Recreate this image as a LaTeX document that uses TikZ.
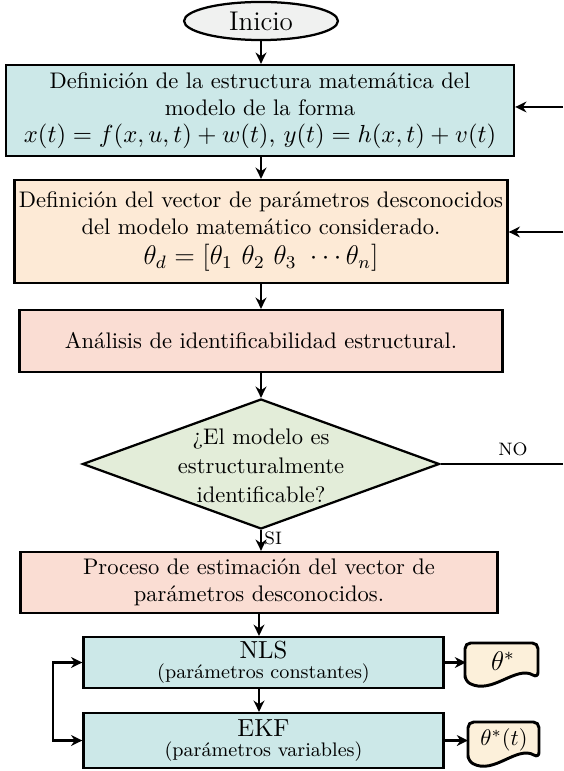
\documentclass[tikz,border=0pt]{standalone}
\usetikzlibrary{shapes.geometric,arrows.meta,backgrounds}
\definecolor{cyanbox}{RGB}{204,232,232}
\definecolor{orangebox}{RGB}{253,234,214}
\definecolor{pinkbox}{RGB}{250,221,211}
\definecolor{greenbox}{RGB}{227,237,217}
\definecolor{docfill}{RGB}{252,240,218}
\definecolor{startfill}{RGB}{240,241,240}
\begin{document}
\begin{tikzpicture}[x=0.4438pt,y=-0.4438pt,
  box/.style={draw,line width=1pt,rectangle,align=center,inner sep=2pt},
  arr/.style={line width=1pt,-{Stealth[length=5pt,width=4.8pt]}},
  darr/.style={line width=1pt,{Stealth[length=5pt,width=4.8pt]}-{Stealth[length=5pt,width=4.8pt]}},
  ln/.style={line width=1pt},
  docshape/.style={draw,line width=1.3pt,fill=docfill,rounded corners=2.5pt},
  lbl/.style={font=\footnotesize,inner sep=1pt},
]
\useasboundingbox (0,0) rectangle (563,771);

\node[draw,ellipse,line width=1pt,fill=startfill,minimum width=68.3pt,minimum height=16.9pt,inner sep=0pt,font=\large] (ini) at (261,21) {Inicio};

\node[box,fill=cyanbox,minimum width=225.5pt,minimum height=40.4pt] (b1) at (260,110.5)
  {Definición de la estructura matemática del\\ modelo de la forma\\
   {\fontsize{10.95}{13}\selectfont $x(t)=f(x,u,t)+w(t)$, $y(t)=h(x,t)+v(t)$}};

\node[box,fill=orangebox,minimum width=214.4pt,minimum height=45.7pt] (b2) at (261,231.5)
  {Definición del vector de parámetros desconocidos\\ del modelo matemático considerado.\\[1pt]
   {\large $\theta_d=[\theta_1\ \theta_2\ \theta_3\ \cdots\theta_n]$}};

\node[box,fill=pinkbox,minimum width=214.4pt,minimum height=27.5pt] (b3) at (261,341)
  {Análisis de identificabilidad estructural.};

\node[draw,diamond,line width=1pt,fill=greenbox,minimum width=158.4pt,minimum height=57.7pt,inner sep=0pt] (dia) at (261,464) {};
\node[align=center,font={\fontsize{10}{13}\selectfont},inner sep=0pt] (dq) at (261,466)
  {¿El modelo es\\ estructuralmente\\ identificable?};

\node[box,fill=pinkbox,minimum width=211.7pt,minimum height=27.1pt] (b4) at (259,582.5)
  {Proceso de estimación del vector de\\ parámetros desconocidos.};

\node[box,fill=cyanbox,minimum width=159.8pt,minimum height=22.6pt,inner sep=1pt] (nls) at (263.5,662.5)
  {{\fontsize{10.95}{11}\selectfont NLS}\\[-3pt] {\fontsize{8.7}{10}\selectfont (parámetros constantes)}};

\node[box,fill=cyanbox,minimum width=159.8pt,minimum height=24.4pt,inner sep=1pt] (ekf) at (263.5,740.5)
  {{\fontsize{10.95}{11}\selectfont EKF}\\[-3pt] {\fontsize{8.7}{10}\selectfont (parámetros variables)}};

\node[minimum width=32.4pt,minimum height=15pt,inner sep=0pt,font=\large] (d1) at (503,661) {$\theta^*$};
\node[minimum width=31.5pt,minimum height=15pt,inner sep=0pt] (d2) at (504,740) {$\theta^*(t)$};
\begin{scope}[on background layer]
  \path[docshape] (465,681) -- (465,643) -- (538,643) -- (538,678)
     .. controls (516,665) and (492,695) .. (465,681) -- cycle;
  \path[docshape] (468,761) -- (468,722) -- (539,722) -- (539,758)
     .. controls (517,745) and (494,775) .. (468,761) -- cycle;
\end{scope}

% free ends
\coordinate (r1) at (563,107);
\coordinate (r2) at (563,232);
\coordinate (r3) at (563,464);
\coordinate (lp) at (53,700);

% connectors
\draw[arr] (ini.south) -- (ini.south |- b1.north);
\draw[arr] (b1.south -| ini.south) -- (ini.south |- b2.north);
\draw[arr] (b2.south -| ini.south) -- (ini.south |- b3.north);
\draw[arr] (b3.south -| ini.south) -- (ini.south |- dia.north);
\draw[arr] (dia.south) -- (dia.south |- b4.north) node[midway,right,lbl,yshift=1pt] {SI};
\draw[arr] (b4.south) -- (b4.south |- nls.north);
\draw[arr] (b4.south |- nls.south) -- (b4.south |- ekf.north);
\draw[arr] (r1) -- (r1 -| b1.east);
\draw[arr] (r2) -- (r2 -| b2.east);
\draw[ln] (dia.east) -- (r3);
\node[lbl] (no) at (513,449) {NO};
\draw[darr] (nls.west) -- (lp |- nls.west) -- (lp |- ekf.west) -- (ekf.west);
\draw[arr] (nls.east) -- (d1.west |- nls.east);
\draw[arr] (ekf.east) -- (d2.west |- ekf.east);
\end{tikzpicture}
\end{document}
